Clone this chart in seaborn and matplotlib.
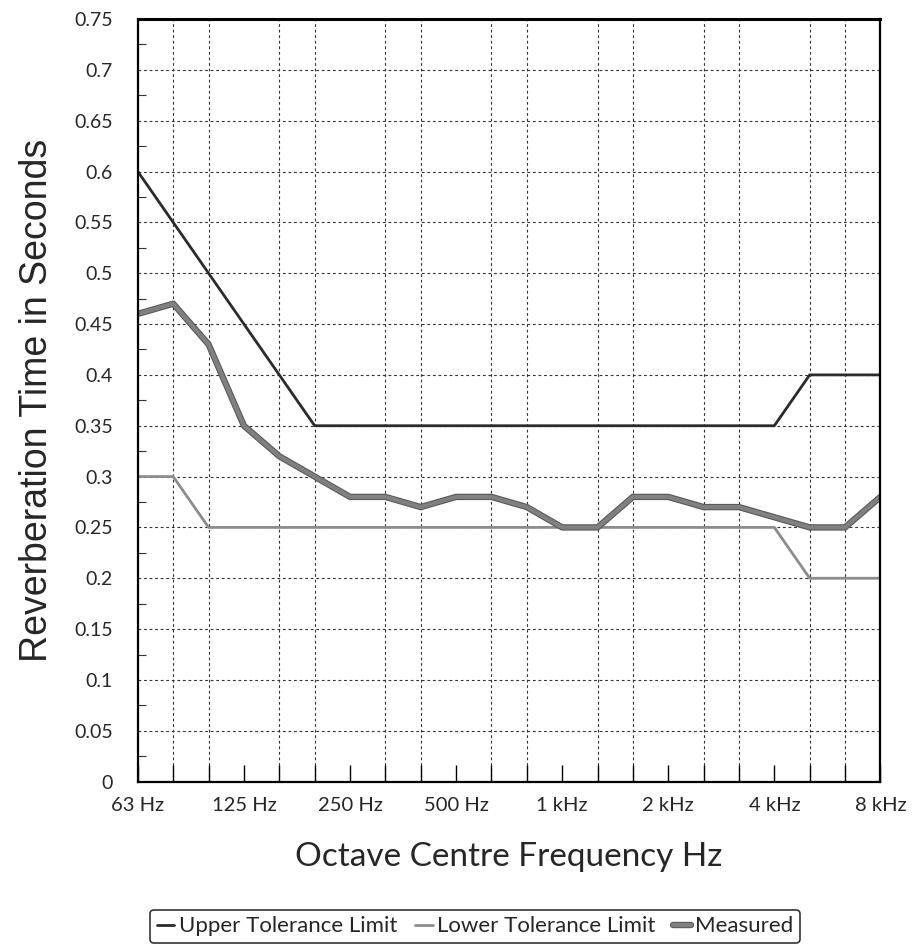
import numpy as np
import pandas as pd
import matplotlib
matplotlib.use("Agg")
import matplotlib.pyplot as plt
import matplotlib.patheffects as pe
import seaborn as sns
from matplotlib.ticker import MultipleLocator, FixedLocator, FuncFormatter

# 1/3 octave bands, 63 Hz .. 8 kHz
bands = ["63", "80", "100", "125", "160", "200", "250", "315", "400", "500", "630",
         "800", "1k", "1.25k", "1.6k", "2k", "2.5k", "3.15k", "4k", "5k", "6.3k", "8k"]
upper = [0.60, 0.55, 0.50, 0.45, 0.40, 0.35, 0.35, 0.35, 0.35, 0.35, 0.35,
         0.35, 0.35, 0.35, 0.35, 0.35, 0.35, 0.35, 0.35, 0.40, 0.40, 0.40]
lower = [0.30, 0.30, 0.25, 0.25, 0.25, 0.25, 0.25, 0.25, 0.25, 0.25, 0.25,
         0.25, 0.25, 0.25, 0.25, 0.25, 0.25, 0.25, 0.25, 0.20, 0.20, 0.20]
measured = [0.46, 0.47, 0.43, 0.35, 0.32, 0.30, 0.28, 0.28, 0.27, 0.28, 0.28,
            0.27, 0.25, 0.25, 0.28, 0.28, 0.27, 0.27, 0.26, 0.25, 0.25, 0.28]
octave_labels = ["63 Hz", "125 Hz", "250 Hz", "500 Hz", "1 kHz", "2 kHz", "4 kHz", "8 kHz"]

df = pd.DataFrame({"pos": np.arange(len(bands)), "band": bands,
                   "upper": upper, "lower": lower, "measured": measured})

sns.set_theme(style="white")
plt.rcParams["font.family"] = ["Lato", "DejaVu Sans"]

fig = plt.figure(figsize=(9.19, 9.52), dpi=100)
ax = fig.add_axes([0.150, 0.179, 0.808, 0.801])

sns.lineplot(data=df, x="pos", y="upper", ax=ax, color="#2b2b2b", linewidth=2.0,
             label="Upper Tolerance Limit")
sns.lineplot(data=df, x="pos", y="lower", ax=ax, color="#8c8c8c", linewidth=2.0,
             label="Lower Tolerance Limit")
sns.lineplot(data=df, x="pos", y="measured", ax=ax, color="#808080", linewidth=4.0,
             label="Measured")
# measured line has a darker rim in the original
ax.lines[-1].set_path_effects([pe.Stroke(linewidth=4.6, foreground="#5a5a5a"), pe.Normal()])
ax.lines[-1].set_linewidth(3.0)

ax.set_xlim(0, len(bands) - 1)
ax.set_ylim(0, 0.75)

ax.xaxis.set_major_locator(FixedLocator(np.arange(0, len(bands), 3)))
ax.xaxis.set_minor_locator(FixedLocator(np.arange(len(bands))))
ax.set_xticklabels(octave_labels)
ax.yaxis.set_major_locator(MultipleLocator(0.05))
ax.yaxis.set_minor_locator(MultipleLocator(0.025))
ax.yaxis.set_major_formatter(FuncFormatter(lambda v, p: "0" if abs(v) < 1e-9 else f"{v:.2f}".rstrip("0")))

ax.tick_params(axis="x", which="both", direction="in", length=12, width=1.0,
               color="black", labelsize=14.5, pad=11)
ax.tick_params(axis="y", which="major", direction="in", length=0, labelsize=14, pad=18)
ax.tick_params(axis="y", which="minor", direction="in", length=6, width=0.8, color="#333333")
ax.tick_params(left=True, bottom=True, which="both")

ax.grid(True, which="minor", axis="x", color="#333333", linestyle=(0, (2.5, 2.5)), linewidth=0.8)
ax.grid(True, which="major", axis="y", color="#333333", linestyle=(0, (2.5, 2.5)), linewidth=0.8)

for side in ["left", "bottom", "right"]:
    ax.spines[side].set_color("black")
    ax.spines[side].set_linewidth(1.6)
ax.spines["top"].set_color("black")
ax.spines["top"].set_linewidth(2.2)

ax.set_xlabel("Octave Centre Frequency Hz", fontsize=24, labelpad=20)
ax.set_ylabel("Reverberation Time in Seconds", fontsize=27, labelpad=14,
              family=["Liberation Sans Narrow", "DejaVu Sans Condensed", "Liberation Sans"],
              fontstretch="condensed")

ax.get_legend().remove()
handles, labels = ax.get_legend_handles_labels()
leg = fig.legend(handles, labels, loc="center", bbox_to_anchor=(0.517, 0.027), ncol=3,
                 frameon=True, fancybox=True, fontsize=16, handlelength=0.8,
                 handletextpad=0.2, columnspacing=0.8, borderpad=0.3,
                 borderaxespad=0.0)
leg.get_frame().set_edgecolor("black")
leg.get_frame().set_linewidth(1.2)

fig.savefig("out.png", dpi=100, facecolor="white")
